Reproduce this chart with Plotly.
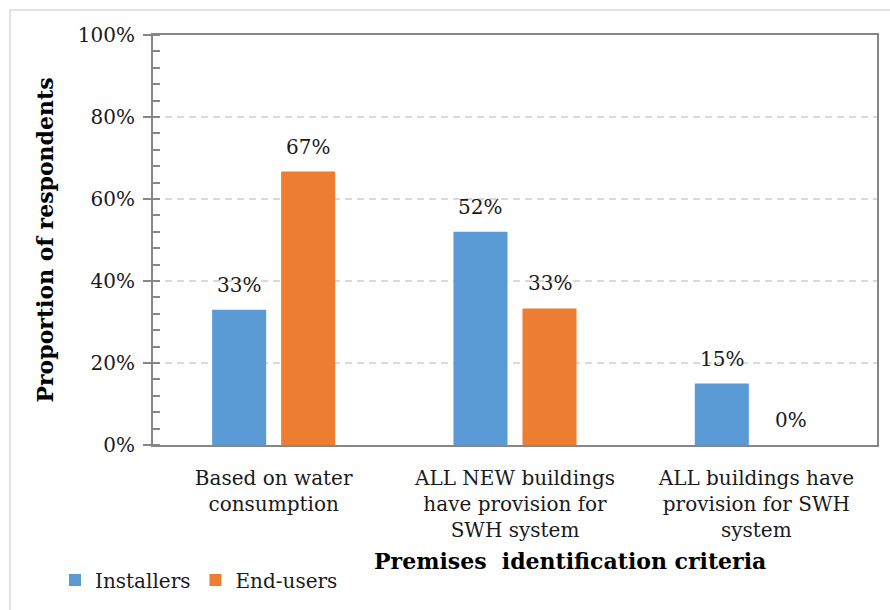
import plotly.graph_objects as go

# Survey results: how premises are identified for SWH systems
categories = [
    "Based on water<br>consumption",
    "ALL NEW buildings<br>have provision for<br>SWH system",
    "ALL buildings have<br>provision for SWH<br>system",
]
installers = [0.33, 0.52, 0.15]
end_users = [0.667, 0.333, 0.0]
y_ticks = [0, 0.2, 0.4, 0.6, 0.8, 1.0]

FONT = "DejaVu Serif"
TXT = 20
AXIS_GREY = "#878787"
BLUE, ORANGE = "#5b9bd5", "#ed7d31"

W, H = 890, 610
L, R, T, B = 153, 13, 35, 164
pw, ph = W - L - R, H - T - B

BARGAP, GROUPGAP = 0.428, 0.217
slot_px = pw / len(categories) * (1 - BARGAP) / 2  # width of one trace slot


def px_x(x):
    return (x - L) / pw


def px_y(y):
    return (H - B - y) / ph


fig = go.Figure()
fig.add_trace(go.Bar(name="Installers", x=categories, y=installers,
                     marker=dict(color=BLUE, line=dict(width=0))))
fig.add_trace(go.Bar(name="End-users", x=categories, y=end_users,
                     marker=dict(color=ORANGE, line=dict(width=0))))

# value labels above each bar
value_labels = []
for values, shift in ((installers, -slot_px / 2), (end_users, slot_px / 2)):
    for cat, v in zip(categories, values):
        value_labels.append(dict(
            xref="x", yref="y", x=cat, y=v, xshift=shift, yshift=25,
            text=f"{v:.0%}", showarrow=False,
            xanchor="center", yanchor="middle",
            font=dict(family=FONT, size=TXT, color="#1a1a1a"),
        ))

fig.update_layout(
    width=W, height=H,
    margin=dict(l=L, r=R, t=T, b=B),
    paper_bgcolor="white", plot_bgcolor="white",
    font=dict(family=FONT, size=TXT, color="#1a1a1a"),
    barmode="group", bargap=BARGAP, bargroupgap=GROUPGAP,
    showlegend=True,
    legend=dict(
        orientation="h", x=px_x(55), y=px_y(580),
        xanchor="left", yanchor="middle",
        font=dict(family=FONT, size=TXT, color="#1a1a1a"),
        itemsizing="constant", tracegroupgap=0,
    ),
    xaxis=dict(
        showline=True, linecolor=AXIS_GREY, linewidth=2, mirror=True,
        showgrid=False, ticks="", ticklabelstandoff=14,
        tickfont=dict(family=FONT, size=TXT, color="#1a1a1a"),
    ),
    yaxis=dict(
        range=[0, 1], tickvals=y_ticks, tickformat=".0%",
        showline=True, linecolor=AXIS_GREY, linewidth=2, mirror=True,
        showgrid=True, gridcolor="#d9d9d9", gridwidth=1.5, griddash="7px,5px",
        zeroline=False,
        ticks="outside", ticklen=8, tickwidth=2, tickcolor=AXIS_GREY,
        ticklabelstandoff=4,
        minor=dict(dtick=0.04, ticks="inside", ticklen=7, tickwidth=2,
                   tickcolor=AXIS_GREY, showgrid=False),
        tickfont=dict(family=FONT, size=TXT, color="#1a1a1a"),
        title=dict(text="<b>Proportion of respondents</b>", standoff=18,
                   font=dict(family=FONT, size=22, color="#000000")),
    ),
    shapes=[
        # outer chart frame
        dict(type="rect", xref="paper", yref="paper",
             x0=px_x(10), x1=px_x(W + 20), y0=px_y(H + 20), y1=px_y(10),
             line=dict(color="#d9d9d9", width=1.5), fillcolor="rgba(0,0,0,0)",
             layer="below"),
    ],
    annotations=value_labels + [
        dict(text="<b>Premises\u00a0 identification criteria</b>",
             xref="paper", yref="paper", x=px_x(570), y=px_y(562),
             xanchor="center", yanchor="middle", showarrow=False,
             font=dict(family=FONT, size=22, color="#000000")),
    ],
)

fig.write_html("out.html")
